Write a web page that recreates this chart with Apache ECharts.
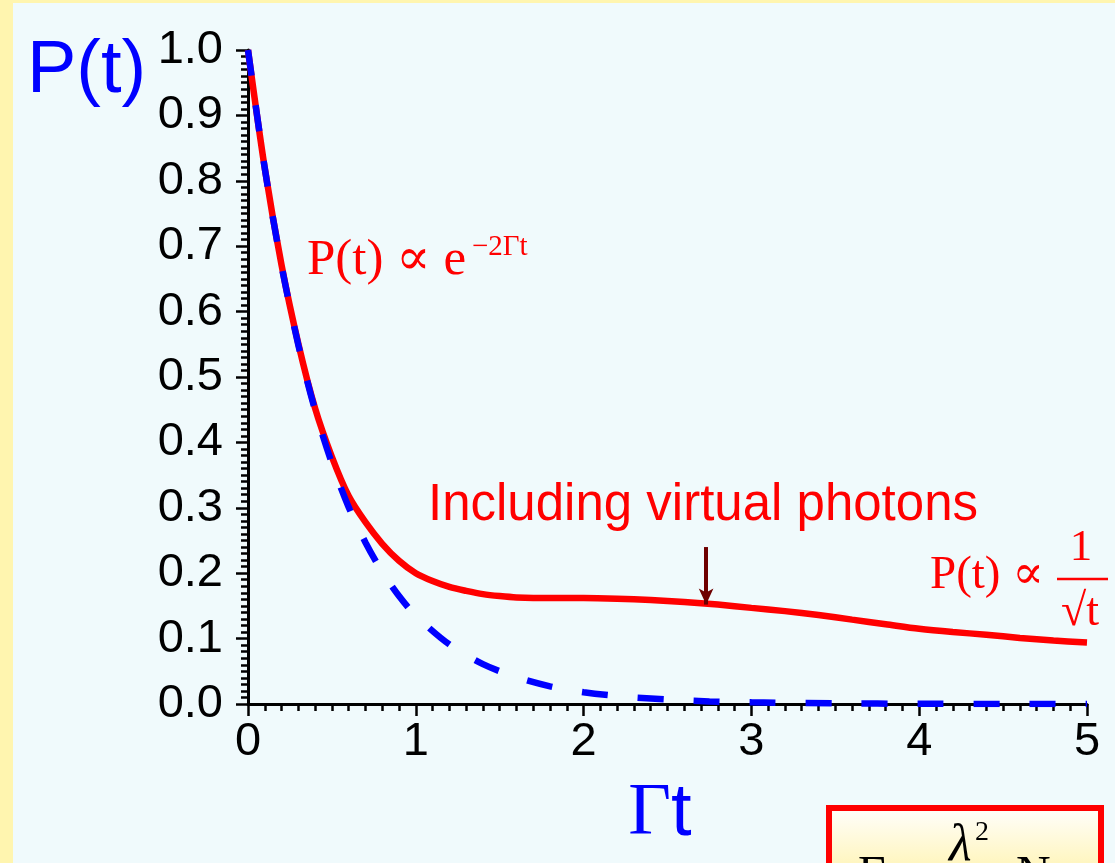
<!DOCTYPE html>
<html><head><meta charset="utf-8">
<style>html,body{margin:0;padding:0;background:#FFF5AF;overflow:hidden;} #c{width:1115px;height:863px;}</style>
<script src="https://cdn.jsdelivr.net/npm/echarts@6/dist/echarts.min.js"></script>
</head><body><div id="c"></div><script>
// Γt values and P(t)
const tRed = [0,0.1,0.2,0.3,0.4,0.5,0.6,0.7,0.8,0.9,1.0,1.1,1.2,1.3,1.4,1.5,1.6,1.8,2.0,2.2,2.4,2.6,2.8,3.0,3.2,3.4,3.6,3.8,4.0,4.2,4.4,4.6,4.8,5.0];
const pRed = [1.0,0.819,0.671,0.551,0.452,0.378,0.318,0.278,0.245,0.219,0.200,0.188,0.179,0.173,0.168,0.165,0.163,0.162,0.162,0.161,0.159,0.156,0.152,0.147,0.142,0.136,0.129,0.122,0.115,0.110,0.106,0.101,0.097,0.094];
const tBlue = [0,0.1,0.2,0.3,0.4,0.5,0.6,0.7,0.8,0.9,1.0,1.2,1.4,1.6,1.8,2.0,2.25,2.5,2.75,3.0,3.5,4.0,4.5,5.0];
const pBlue = [1.0,0.819,0.670,0.549,0.449,0.368,0.301,0.247,0.202,0.165,0.135,0.091,0.061,0.041,0.027,0.018,0.011,0.007,0.004,0.0025,0.001,0.0003,0.0001,0.00005];
const arrowT = 2.73, arrowFrom = 0.24, arrowTo = 0.152;

const redData = tRed.map((t,i)=>[t,pRed[i]]);
const blueData = tBlue.map((t,i)=>[t,pBlue[i]]);
const sans = "'Liberation Sans', Arial, sans-serif";
const serif = "'Liberation Serif', 'DejaVu Serif', 'Times New Roman', serif";

const axisCommon = {
  axisLine:{show:true,onZero:false,lineStyle:{color:'#000',width:3}},
  axisTick:{show:true,inside:false,length:12,lineStyle:{color:'#000',width:2.5}},
  minorTick:{show:true,splitNumber:10,length:7,lineStyle:{color:'#000',width:2.5}},
  splitLine:{show:false},
  minorSplitLine:{show:false}
};

const chart = echarts.init(document.getElementById('c'),null,{renderer:'canvas'});
chart.setOption({
  animation:false,
  backgroundColor:'transparent',
  grid:{left:248,right:28,top:50,bottom:159,containLabel:false},
  xAxis:Object.assign({type:'value',min:0,max:5,interval:1,
    axisLabel:{fontSize:47,color:'#000',fontFamily:sans,margin:15}},axisCommon),
  yAxis:Object.assign({type:'value',min:0,max:1,interval:0.1,
    axisLabel:{fontSize:47,color:'#000',fontFamily:sans,margin:25,formatter:v=>v.toFixed(1)}},axisCommon),
  series:[
    {type:'line',data:redData,smooth:0.3,showSymbol:false,z:2,
     lineStyle:{color:'#FF0000',width:6.5},
     markLine:{silent:true,symbol:['none','arrow'],symbolSize:[11,16],
       label:{show:false},
       lineStyle:{color:'#6E0000',width:4,type:'solid'},
       data:[[{coord:[arrowT,arrowFrom]},{coord:[arrowT,arrowTo]}]]}},
    {type:'line',data:blueData,smooth:0.3,showSymbol:false,z:3,
     lineStyle:{color:'#0000FF',width:6.5,type:[26,30],cap:'butt'}}
  ],
  graphic:[
    {type:'rect',z:-10,shape:{x:13,y:3,width:1102,height:860},style:{fill:'#F0FAFC'}},
    {type:'text',x:27,y:72,style:{text:'P(t)',font:"74px "+sans,fill:'#0000FF',verticalAlign:'middle',align:'left'}},
    {type:'text',x:660,y:815,style:{text:'{g|Γ}{t|t}',verticalAlign:'middle',align:'center',
      rich:{g:{font:"74px "+serif,fill:'#0000FF'},t:{font:"74px "+sans,fill:'#0000FF'}}}},
    {type:'text',x:307,y:261,style:{text:'P(t) ∝ e',font:"51px "+serif,fill:'#FF0000',verticalAlign:'middle',align:'left'}},
    {type:'text',x:472,y:247,style:{text:'−2Γt',font:"29px "+serif,fill:'#FF0000',verticalAlign:'middle',align:'left'}},
    {type:'text',x:428,y:506,style:{text:'Including virtual photons',font:"51px "+sans,fill:'#FF0000',verticalAlign:'middle',align:'left'}},
    {type:'text',x:930,y:576,style:{text:'P(t) ∝',font:"47px "+serif,fill:'#FF0000',verticalAlign:'middle',align:'left'}},
    {type:'text',x:1081,y:548,style:{text:'1',font:"45px "+serif,fill:'#FF0000',verticalAlign:'middle',align:'center'}},
    {type:'line',shape:{x1:1057,y1:579,x2:1108,y2:579},style:{stroke:'#FF0000',lineWidth:2.5}},
    {type:'text',x:1080,y:613,style:{text:'√t',font:"46px "+serif,fill:'#FF0000',verticalAlign:'middle',align:'center'}},
    {type:'rect',z:5,shape:{x:829,y:808,width:272,height:120},
      style:{stroke:'#FF0000',lineWidth:6,fill:new echarts.graphic.LinearGradient(0,0,0,1,[{offset:0,color:'#FFFFFF'},{offset:0.45,color:'#FFF6C2'},{offset:1,color:'#FFF3B0'}])}},
    {type:'text',z:6,x:858,y:876,style:{text:'Γ',font:"48px "+serif,fill:'#000',verticalAlign:'middle',align:'left'}},
    {type:'text',z:6,x:949,y:846,style:{text:'λ',font:"italic 52px "+serif,fill:'#000',verticalAlign:'middle',align:'left'}},
    {type:'text',z:6,x:975,y:833,style:{text:'2',font:"28px "+serif,fill:'#000',verticalAlign:'middle',align:'left'}},
    {type:'text',z:6,x:1016,y:876,style:{text:'N',font:"48px "+serif,fill:'#000',verticalAlign:'middle',align:'left'}}
  ]
});
</script></body></html>
